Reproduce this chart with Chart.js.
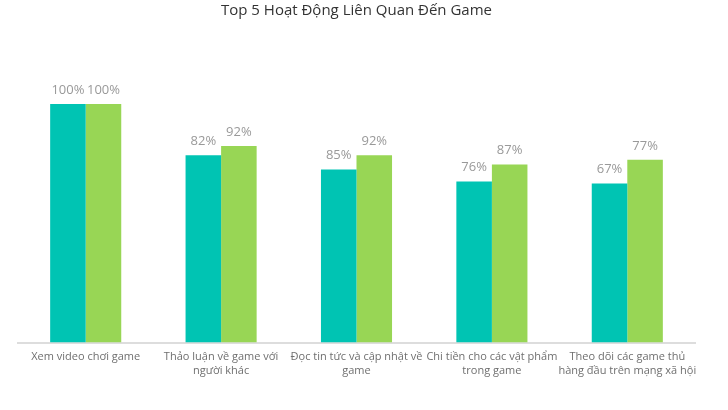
<!DOCTYPE html>
<html>
<head>
<meta charset="utf-8">
<script src="https://cdn.jsdelivr.net/npm/chart.js@4"></script>
<style>
html,body{margin:0;padding:0;background:#fff;}
#wrap{width:728px;height:410px;}
</style>
</head>
<body>
<div id="wrap"><canvas id="c" width="728" height="410"></canvas></div>
<script>
const categories = [
  ["Xem video chơi game"],
  ["Thảo luận về game với", "người khác"],
  ["Đọc tin tức và cập nhật về", "game"],
  ["Chi tiền cho các vật phẩm", "trong game"],
  ["Theo dõi các game thủ", "hàng đầu trên mạng xã hội"]
];
const series1Values = [100, 78.5, 72.5, 67.5, 66.7];
const series2Values = [100, 82.4, 78.5, 74.6, 76.6];
const series1Labels = ["100%", "82%", "85%", "76%", "67%"];
const series2Labels = ["100%", "92%", "92%", "87%", "77%"];
const titleText = "Top 5 Hoạt Động Liên Quan Đến Game";

const FONT = "'Open Sans', 'Noto Sans', sans-serif";

const valueLabels = {
  id: 'valueLabels',
  afterDatasetsDraw(chart) {
    const ctx = chart.ctx;
    const texts = [series1Labels, series2Labels];
    ctx.save();
    ctx.font = "13px " + FONT;
    ctx.fillStyle = "#999999";
    ctx.textAlign = "center";
    ctx.textBaseline = "middle";
    chart.data.datasets.forEach((ds, i) => {
      const meta = chart.getDatasetMeta(i);
      meta.data.forEach((bar, j) => {
        ctx.fillText(texts[i][j], bar.x, bar.y - 14);
      });
    });
    ctx.restore();
  }
};

new Chart(document.getElementById('c'), {
  type: 'bar',
  data: {
    labels: categories,
    datasets: [
      { data: series1Values, backgroundColor: '#00c4b3', borderWidth: 0 },
      { data: series2Values, backgroundColor: '#98d655', borderWidth: 0 }
    ]
  },
  options: {
    responsive: false,
    animation: false,
    devicePixelRatio: 1,
    layout: { padding: { left: 18, right: 33, top: 0, bottom: 33 } },
    plugins: {
      legend: { display: false },
      tooltip: { enabled: false },
      title: {
        display: true,
        text: titleText,
        color: '#333333',
        font: { family: FONT, size: 15, weight: 'normal' },
        padding: { top: 2, bottom: 84 }
      }
    },
    scales: {
      x: {
        grid: { display: false },
        border: { display: true, color: '#dddddd', width: 2 },
        ticks: {
          color: '#6f6f6f',
          font: { family: FONT, size: 11 },
          maxRotation: 0,
          autoSkip: false,
          padding: 0
        }
      },
      y: {
        display: false,
        min: 0,
        max: 100
      }
    },
    datasets: { bar: { categoryPercentage: 0.525, barPercentage: 1 } }
  },
  plugins: [valueLabels]
});
</script>
</body>
</html>
